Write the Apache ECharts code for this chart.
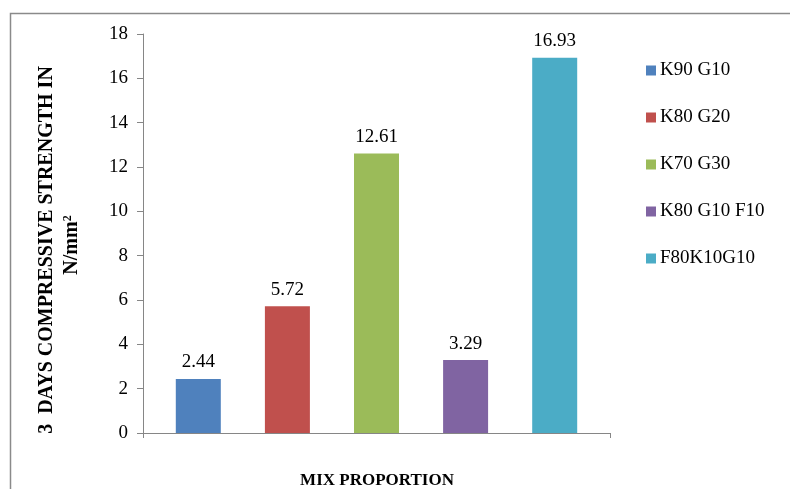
<!DOCTYPE html>
<html>
<head>
<meta charset="utf-8">
<script src="https://cdn.jsdelivr.net/npm/echarts@6/dist/echarts.min.js"></script>
<style>
  html, body { margin: 0; padding: 0; background: #fff; }
  #chart { width: 790px; height: 489px; }
</style>
</head>
<body>
<div id="chart"></div>
<script>
// Mix proportions and their 3-day compressive strength (N/mm²)
const mixNames = ['K90 G10', 'K80 G20', 'K70 G30', 'K80 G10 F10', 'F80K10G10'];
const strengths = [2.44, 5.72, 12.61, 3.29, 16.93];
const mixColors = ['#4F81BD', '#C0504D', '#9BBB59', '#8064A2', '#4BACC6'];
const yTicks = { min: 0, max: 18, step: 2 };

const FONT = 'Liberation Serif';

const chart = echarts.init(document.getElementById('chart'), null, { renderer: 'canvas' });

const series = mixNames.map((name, i) => ({
  name: name,
  type: 'bar',
  data: [strengths[i]],
  barWidth: 45,
  barGap: '98%',
  itemStyle: { color: mixColors[i] },
  label: {
    show: true,
    position: 'top',
    distance: 7,
    color: '#000',
    fontFamily: FONT,
    fontSize: 19,
    formatter: p => p.value.toFixed(2)
  }
}));

chart.setOption({
  animation: false,
  backgroundColor: '#fff',
  textStyle: { fontFamily: FONT },
  grid: { left: 143, right: 180, top: 34, bottom: 56 },
  xAxis: {
    type: 'category',
    data: ['MIX PROPORTION'],
    axisLine: { lineStyle: { color: '#868686', width: 1 } },
    axisTick: { show: true, length: 5, alignWithLabel: false, lineStyle: { color: '#868686' } },
    axisLabel: { show: false }
  },
  yAxis: {
    type: 'value',
    min: yTicks.min,
    max: yTicks.max,
    interval: yTicks.step,
    axisLine: { show: true, lineStyle: { color: '#868686', width: 1 } },
    axisTick: { show: true, length: 6, lineStyle: { color: '#868686' } },
    splitLine: { show: false },
    axisLabel: { color: '#000', fontFamily: FONT, fontSize: 19, margin: 15 }
  },
  legend: {
    orient: 'vertical',
    left: 641,
    top: 56,
    itemGap: 28,
    itemWidth: 10,
    itemHeight: 10,
    icon: 'rect',
    textStyle: { color: '#000', fontFamily: FONT, fontSize: 19, padding: [0, 0, 0, -1] },
    data: mixNames
  },
  series: series,
  graphic: [
    {
      type: 'rect',
      shape: { x: 10.5, y: 13.5, width: 800, height: 500 },
      style: { fill: 'none', stroke: '#8a8a8a', lineWidth: 1.5 },
      silent: true
    },
    {
      // y-axis title, first line
      type: 'text',
      x: 47,
      y: 250,
      rotation: Math.PI / 2,
      style: {
        text: '3  DAYS COMPRESSIVE STRENGTH IN',
        align: 'center',
        verticalAlign: 'middle',
        fontFamily: FONT,
        fontWeight: 'bold',
        fontSize: 20,
        fill: '#000'
      }
    },
    {
      // y-axis title, unit line with superscript
      type: 'text',
      x: 72,
      y: 245,
      rotation: Math.PI / 2,
      style: {
        text: '{a|N/mm}{s|2}',
        align: 'center',
        verticalAlign: 'middle',
        fill: '#000',
        rich: {
          a: { fontFamily: FONT, fontWeight: 'bold', fontSize: 20, lineHeight: 24, fill: '#000' },
          s: { fontFamily: FONT, fontWeight: 'bold', fontSize: 12, lineHeight: 14, verticalAlign: 'top', padding: [2, 0, 0, 0], fill: '#000' }
        }
      }
    },
    {
      type: 'text',
      x: 377,
      y: 481,
      style: {
        text: 'MIX PROPORTION',
        align: 'center',
        verticalAlign: 'middle',
        fontFamily: FONT,
        fontWeight: 'bold',
        fontSize: 17,
        fill: '#000'
      }
    }
  ]
});
</script>
</body>
</html>
